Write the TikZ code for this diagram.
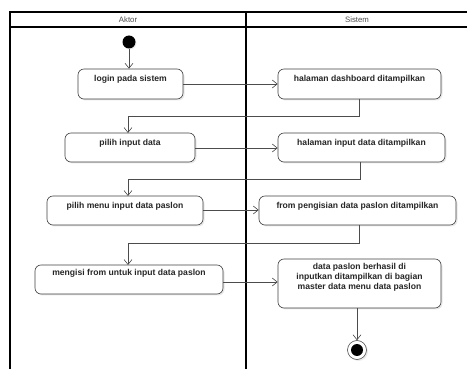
\documentclass[tikz,border=0pt]{standalone}
\usepackage{fontspec}
\setmainfont{Liberation Sans}
\usetikzlibrary{arrows.meta,shadows}
\tikzset{
  lane/.style={line width=1.4pt, draw=black},
  act/.style={draw=black!75, line width=0.6pt, rounded corners=6pt, fill=white,
    drop shadow={shadow xshift=1.5pt, shadow yshift=-1.5pt, opacity=0.18}},
  acttext/.style={font=\bfseries\fontsize{8.6}{10}\selectfont, align=center, inner sep=0pt, text=black!85},
  flow/.style={draw=black!70, line width=0.6pt, -{Straight Barb[length=5pt,width=8pt]}},
  head/.style={font=\fontsize{7.8}{9}\selectfont, text=black!70, inner sep=0pt}
}
\begin{document}
\begin{tikzpicture}[x=1pt, y=-1pt]
\useasboundingbox (0,0) rectangle (467,369);
% swimlane frame
\draw[lane] (10,369) -- (10,12) -- (467,12);
\draw[lane] (10,27) -- (467,27);
\draw[lane] (246,12) -- (246,369);
\node[head] (hA) at (128,19.5) {Aktor};
\node[head] (hS) at (357,19.5) {Sistem};

% start node
\node[circle, fill=black, minimum size=13pt, inner sep=0pt,
  drop shadow={shadow xshift=1pt, shadow yshift=-1pt, opacity=0.15}] (start) at (129,42) {};

% actor activities
\node[act, minimum width=105pt, minimum height=30pt] (a1) at (130.5,84) {};
\node[acttext, anchor=center] (a1t) at (130.5,79) {login pada sistem};
\node[act, minimum width=130pt, minimum height=29pt] (a2) at (130,147.5) {};
\node[acttext] (a2t) at (130,143) {pilih input data};
\node[act, minimum width=156pt, minimum height=29pt] (a3) at (125,210.5) {};
\node[acttext] (a3t) at (125,206) {pilih menu input data paslon};
\node[act, minimum width=188pt, minimum height=29pt] (a4) at (129,279.5) {};
\node[acttext] (a4t) at (129,273.5) {mengisi from untuk input data paslon};

% system activities
\node[act, minimum width=163pt, minimum height=30pt] (s1) at (359.5,84) {};
\node[acttext] (s1t) at (359.5,79) {halaman dashboard ditampilkan};
\node[act, minimum width=167pt, minimum height=29pt] (s2) at (361.5,147.5) {};
\node[acttext] (s2t) at (361.5,143) {halaman input data ditampilkan};
\node[act, minimum width=197pt, minimum height=29pt] (s3) at (357.5,210.5) {};
\node[acttext] (s3t) at (357.5,206) {from pengisian data paslon ditampilkan};
\node[act, minimum width=163pt, minimum height=49pt] (s4) at (359.5,283.5) {};
\node[acttext, anchor=north] (s4t) at (359.5,263.5) {data paslon berhasil di\\inputkan ditampilkan di bagian\\master data menu data paslon};

% final node
\node[circle, draw=black!70, line width=0.6pt, fill=white, minimum size=19pt, inner sep=0pt,
  drop shadow={shadow xshift=1.5pt, shadow yshift=-1.5pt, opacity=0.15}] (final) at (357,350) {};
\node[circle, fill=black, minimum size=12pt, inner sep=0pt] (finalin) at (final.center) {};

% control flow
\draw[flow] (start) -- (start |- a1.north);
\draw[flow] (a1.east |- 0,84) -- (s1.west |- 0,84);
\draw[flow] (359,99) -- (359,116) -- (128,116) -- (128,133);
\draw[flow] (a2.east |- 0,148) -- (s2.west |- 0,148);
\draw[flow] (360,162) -- (360,179) -- (128,179) -- (128,196);
\draw[flow] (a3.east |- 0,210) -- (s3.west |- 0,210);
\draw[flow] (359,225) -- (359,243) -- (128,243) -- (128,265);
\draw[flow] (a4.east |- 0,282) -- (s4.west |- 0,282);
\draw[flow] (s4.south -| 357,0) -- (final.north);
\end{tikzpicture}
\end{document}
